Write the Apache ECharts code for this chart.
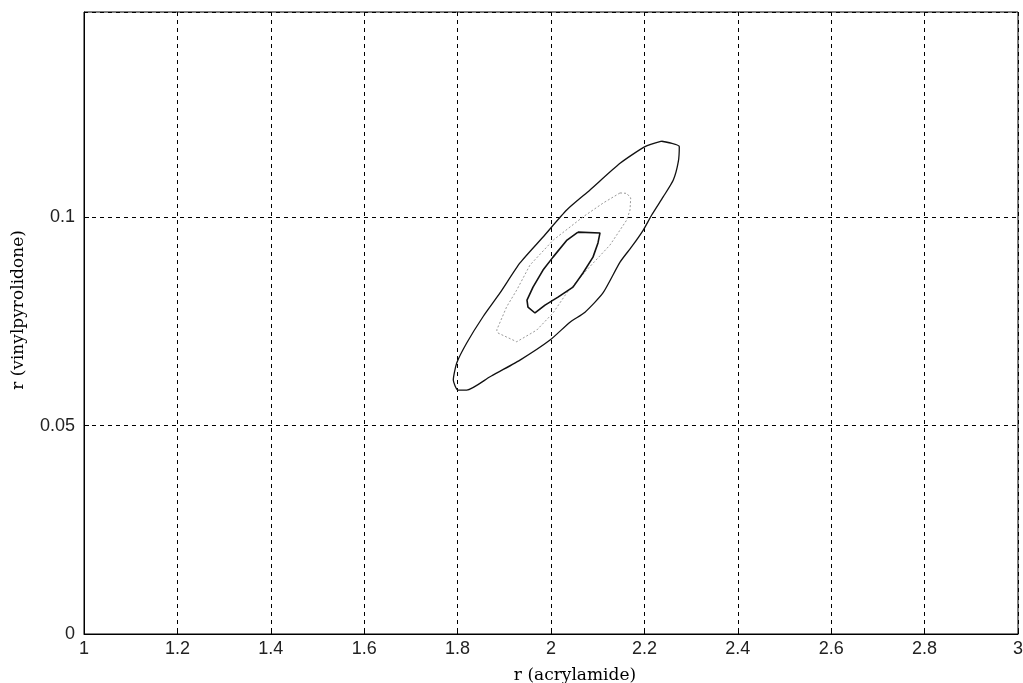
<!DOCTYPE html>
<html>
<head>
<meta charset="utf-8">
<script src="https://cdn.jsdelivr.net/npm/echarts@6/dist/echarts.min.js"></script>
<style>html,body{margin:0;padding:0;background:#fff;}#c{width:1023px;height:683px;}</style>
</head>
<body>
<div id="c"></div>
<script>
const xTicks = ['1','1.2','1.4','1.6','1.8','2','2.2','2.4','2.6','2.8','3'];
const yTicks = ['0','0.05','0.1'];
const outerX = [2.237,2.2747,2.2726,2.2619,2.2405,2.2156,2.1976,2.1728,2.1478,2.1113,2.0728,2.0407,1.9979,1.9336,1.8694,1.8195,1.8009,1.7908,1.7981,1.8195,1.8544,1.8908,1.9336,1.9835,2.0336,2.0835,2.1478,2.2013,2.237];
const outerY = [0.1182,0.1169,0.1133,0.1089,0.1049,0.1005,0.0969,0.0929,0.0892,0.0818,0.0772,0.0748,0.0705,0.0657,0.0617,0.0585,0.0585,0.0609,0.0650,0.0698,0.0761,0.0818,0.0890,0.0953,0.1017,0.1065,0.1129,0.1169,0.1182];
const midX = [2.1478,2.1621,2.1707,2.1692,2.1621,2.1478,2.1263,2.0764,2.0336,2.0043,1.9694,1.9266,1.8865,1.8837,1.9051,1.9266,1.9550,2.0049,2.0692,2.1120,2.1478];
const midY = [0.1058,0.1057,0.1046,0.1017,0.0993,0.0969,0.0933,0.0873,0.0818,0.0770,0.0729,0.0701,0.0722,0.0729,0.0785,0.0825,0.0885,0.0945,0.1001,0.1034,0.1058];
const innerX = [2.0578,2.1049,2.1006,2.0899,2.0685,2.0471,2.0150,1.9872,1.9657,1.9507,1.9486,1.9615,1.9829,2.0043,2.0343,2.0578];
const innerY = [0.0964,0.0962,0.0938,0.0904,0.0866,0.0832,0.0808,0.0789,0.0770,0.0784,0.0801,0.0832,0.0873,0.0904,0.0945,0.0964];

const pairs = (xs, ys) => xs.map((x, i) => [x, ys[i]]);

const chart = echarts.init(document.getElementById('c'));
chart.setOption({
  animation: false,
  backgroundColor: '#fff',
  grid: { left: 84, top: 12, right: 5, bottom: 49, show: true, borderColor: '#000', borderWidth: 1, containLabel: false, outerBoundsMode: 'none' },
  xAxis: {
    type: 'value', min: 1, max: 3, interval: 0.2,
    name: 'r (acrylamide)', nameLocation: 'middle', nameGap: 33,
    nameTextStyle: { fontFamily: 'DejaVu Serif', fontSize: 17, color: '#000', padding: [0, 0, 0, 48] },
    axisLine: { show: true, lineStyle: { color: '#000', width: 1 } },
    axisTick: { show: true, inside: true, length: 5, lineStyle: { color: '#000' } },
    axisLabel: { fontFamily: 'Liberation Sans', fontSize: 18, color: '#222', margin: 6,
      formatter: v => { const i = Math.round((v - 1) / 0.2); return xTicks[i] !== undefined ? xTicks[i] : ''; } },
    splitLine: { show: true, lineStyle: { color: '#000', type: [4, 4], width: 1 } }
  },
  yAxis: {
    type: 'value', min: 0, max: 0.1492, interval: 0.05,
    name: 'r (vinylpyrolidone)', nameLocation: 'middle', nameGap: 57,
    nameTextStyle: { fontFamily: 'DejaVu Serif', fontSize: 17, color: '#000', padding: [0, 0, 0, 26] },
    axisLine: { show: true, lineStyle: { color: '#000', width: 1 } },
    axisTick: { show: true, inside: true, length: 5, lineStyle: { color: '#000' } },
    axisLabel: { fontFamily: 'Liberation Sans', fontSize: 18, color: '#222', margin: 9, showMaxLabel: false,
      formatter: v => { const i = Math.round(v / 0.05); return (Math.abs(v - i * 0.05) < 1e-9 && yTicks[i] !== undefined) ? yTicks[i] : ''; } },
    splitLine: { show: true, lineStyle: { color: '#000', type: [4, 4], width: 1 } }
  },
  series: [
    { type: 'line', data: pairs(outerX, outerY), showSymbol: false, smooth: 0.2, lineStyle: { color: '#111', width: 1.3 } },
    { type: 'line', data: pairs(midX, midY), showSymbol: false, lineStyle: { color: '#999', width: 1, type: [2, 2] } },
    { type: 'line', data: pairs(innerX, innerY), showSymbol: false, lineStyle: { color: '#111', width: 1.6 } }
  ]
});
</script>
</body>
</html>
